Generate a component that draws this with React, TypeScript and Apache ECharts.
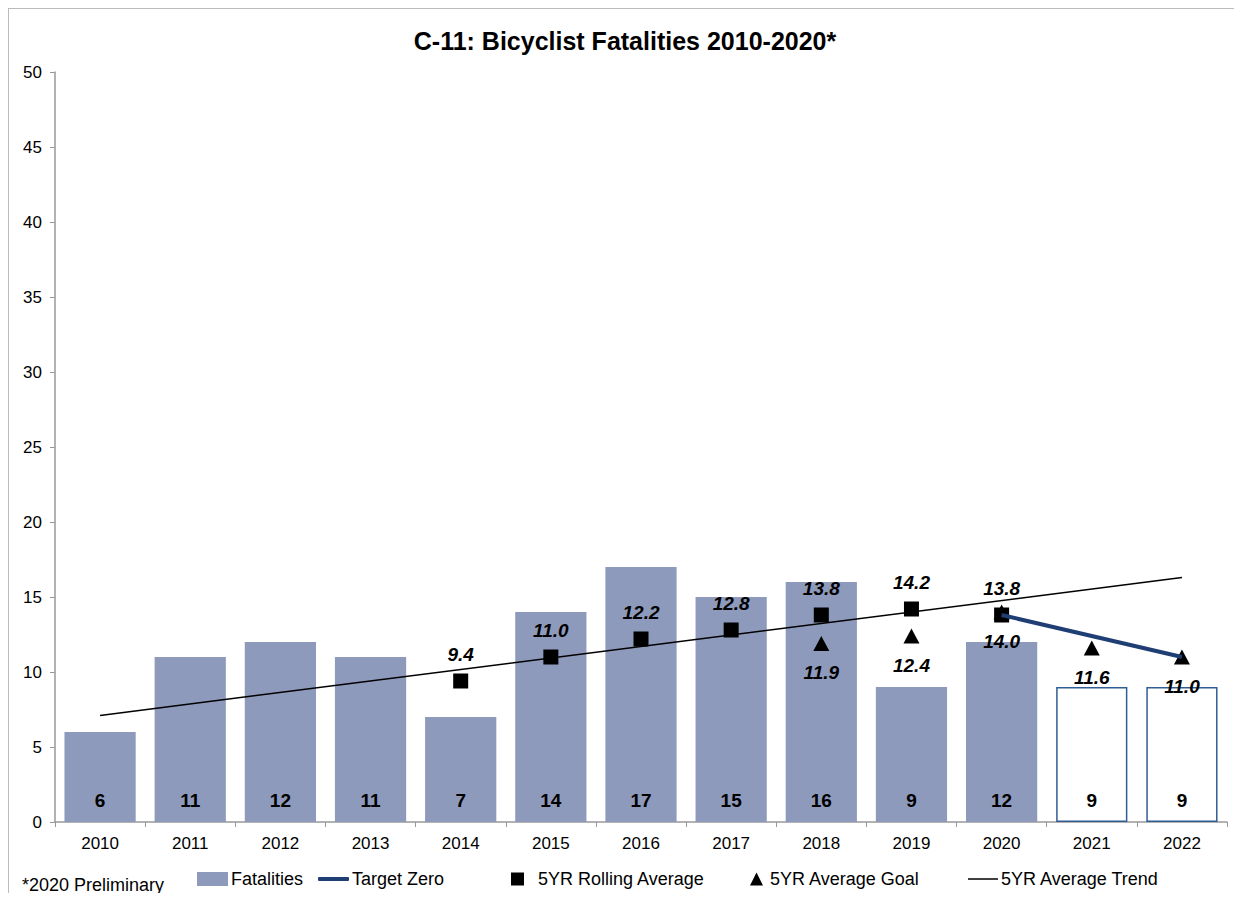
import React, { useEffect, useRef } from "react";
import * as echarts from "echarts";

const years = ["2010", "2011", "2012", "2013", "2014", "2015", "2016", "2017", "2018", "2019", "2020", "2021", "2022"];
const fatalities = [6, 11, 12, 11, 7, 14, 17, 15, 16, 9, 12, 9, 9];
const projectedYears = ["2021", "2022"];
const rollingAvg = [null, null, null, null, 9.4, 11.0, 12.2, 12.8, 13.8, 14.2, 13.8, null, null];
const avgGoal = [null, null, null, null, null, null, null, null, 11.9, 12.4, 14.0, 11.6, 11.0];
const targetZero = [null, null, null, null, null, null, null, null, null, null, 13.8, null, 11.0];
const avgTrend = [7.1, null, null, null, null, null, null, null, null, null, null, null, 16.3];

const FONT = "Liberation Sans, Arial, sans-serif";
const BAR = "#8e9abb";

export default function App() {
  const ref = useRef<HTMLDivElement>(null);
  useEffect(() => {
    const chart = echarts.init(ref.current!, null, { renderer: "svg" });
    const legendBase = {
      top: 861,
      padding: 0,
      itemGap: 0,
      textStyle: { fontFamily: FONT, fontSize: 18, color: "#000", padding: [0, 0, 0, -2] },
      selectedMode: false,
    };
    chart.setOption({
      animation: false,
      textStyle: { fontFamily: FONT },
      title: {
        text: "C-11: Bicyclist Fatalities 2010-2020*",
        left: "center",
        top: 14,
        textStyle: { fontFamily: FONT, fontSize: 25, fontWeight: "bold", color: "#000" },
      },
      grid: { left: 46, right: 14, top: 63, bottom: 80 },
      xAxis: {
        type: "category",
        data: years,
        axisLine: { lineStyle: { color: "#999", width: 1.5 } },
        axisTick: { show: true, alignWithLabel: false, length: 5, lineStyle: { color: "#999" } },
        axisLabel: { fontFamily: FONT, fontSize: 17, color: "#000", margin: 13 },
      },
      yAxis: {
        type: "value",
        min: 0,
        max: 50,
        interval: 5,
        axisLine: { show: true, lineStyle: { color: "#999", width: 1.5 } },
        axisTick: { show: true, length: 5, lineStyle: { color: "#999" } },
        splitLine: { show: false },
        axisLabel: { fontFamily: FONT, fontSize: 17, color: "#000", margin: 13 },
      },
      legend: [
        { ...legendBase, left: 188, itemWidth: 31, itemHeight: 14, icon: "rect", data: ["Fatalities"] },
        { ...legendBase, left: 309, itemWidth: 31, itemHeight: 4, icon: "roundRect", data: ["Target Zero"] },
        { ...legendBase, left: 502, itemWidth: 13, itemHeight: 13, icon: "rect", data: ["5YR Rolling Average"], textStyle: { ...legendBase.textStyle, padding: [0, 0, 0, 9] } },
        { ...legendBase, left: 741, itemWidth: 13, itemHeight: 13, icon: "triangle", data: ["5YR Average Goal"], textStyle: { ...legendBase.textStyle, padding: [0, 0, 0, 2] } },
        { ...legendBase, left: 959, itemWidth: 30, itemHeight: 1.5, icon: "rect", data: ["5YR Average Trend"] },
      ],
      graphic: [
        {
          type: "text",
          left: 13,
          top: 867,
          style: { text: "*2020 Preliminary", fontFamily: FONT, fontSize: 18, fill: "#000" },
        },
      ],
      series: [
        {
          name: "Fatalities",
          type: "bar",
          barCategoryGap: "21%",
          itemStyle: { color: BAR },
          data: fatalities.map((v, i) =>
            projectedYears.includes(years[i])
              ? { value: v, itemStyle: { color: "#ffffff", borderColor: "#2f5d94", borderWidth: 1.5 } }
              : { value: v }
          ),
          label: {
            show: true,
            position: "insideBottom",
            distance: 12,
            fontFamily: FONT,
            fontSize: 19,
            fontWeight: "bold",
            color: "#000",
          },
          z: 1,
        },
        {
          name: "5YR Average Trend",
          type: "line",
          data: avgTrend,
          connectNulls: true,
          symbol: "none",
          lineStyle: { color: "#000", width: 1.5 },
          itemStyle: { color: "#000" },
          z: 3,
        },
        {
          name: "5YR Rolling Average",
          type: "scatter",
          data: rollingAvg,
          symbol: "rect",
          symbolSize: 15,
          itemStyle: { color: "#000", opacity: 1 },
          label: {
            show: true,
            position: "top",
            distance: 10,
            formatter: (p: any) => Number(p.value).toFixed(1),
            fontFamily: FONT,
            fontSize: 19,
            fontWeight: "bold",
            fontStyle: "italic",
            color: "#000",
          },
          z: 4,
        },
        {
          name: "5YR Average Goal",
          type: "scatter",
          data: avgGoal,
          symbol: "triangle",
          symbolSize: [16, 15],
          itemStyle: { color: "#000", opacity: 1 },
          label: {
            show: true,
            position: "bottom",
            distance: 12,
            formatter: (p: any) => Number(p.value).toFixed(1),
            fontFamily: FONT,
            fontSize: 19,
            fontWeight: "bold",
            fontStyle: "italic",
            color: "#000",
          },
          z: 4,
        },
        {
          name: "Target Zero",
          type: "line",
          data: targetZero,
          connectNulls: true,
          symbol: "none",
          lineStyle: { color: "#1f3e74", width: 4 },
          itemStyle: { color: "#1f3e74" },
          z: 5,
        },
      ],
    });
    return () => chart.dispose();
  }, []);
  return (
    <div style={{ width: 1234, height: 893, marginBottom: -8, border: "1px solid #bbb", boxSizing: "border-box", overflow: "hidden" }}>
      <div ref={ref} style={{ width: 1232, height: 893 }} />
    </div>
  );
}
